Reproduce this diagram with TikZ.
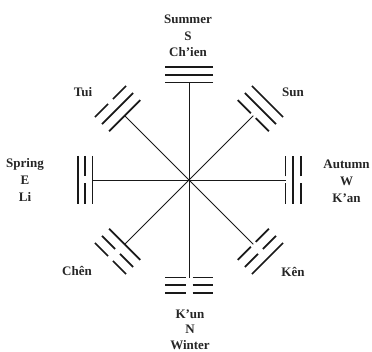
\documentclass[tikz,border=0pt]{standalone}
\usepackage{fontspec}
\setmainfont{Liberation Serif}
\tikzset{
  yao/.style={line width=1.7pt,black!90},
  spoke/.style={line width=0.9pt,black!90},
  lbl/.style={font=\fontsize{13}{16}\selectfont\bfseries,inner sep=0pt,anchor=base,text=black!85}
}
\def\yaogap{3.5}
\newcommand\yaoS[2]{\draw[yao] (#1,-#2) -- (#1,#2);}
\newcommand\yaoB[2]{\draw[yao] (#1,-#2) -- (#1,-\yaogap) (#1,\yaogap) -- (#1,#2);}
% angle, inner distance, spacing, half length, inner, middle, outer
\newcommand\trigram[7]{%
  \begin{scope}[shift={(C)},rotate=#1]
    \csname yao#5\endcsname{#2}{#4}
    \csname yao#6\endcsname{#2+#3}{#4}
    \csname yao#7\endcsname{#2+2*#3}{#4}
  \end{scope}}
\begin{document}
\begin{tikzpicture}[x=1pt,y=1pt]
\useasboundingbox (0,0) rectangle (372,351);
\coordinate (C) at (189,171);
% spoke ends
\path (C) ++(90:97.5)   coordinate (eN);
\path (C) ++(-90:97.5)  coordinate (eS);
\path (C) ++(0:96.5)    coordinate (eE);
\path (C) ++(180:96.5)  coordinate (eW);
\path (C) ++(45:91)     coordinate (eNE);
\path (C) ++(135:91)    coordinate (eNW);
\path (C) ++(-45:91)    coordinate (eSE);
\path (C) ++(-135:91)   coordinate (eSW);
\foreach \e in {eN,eS,eE,eW,eNE,eNW,eSE,eSW} \draw[spoke] (C) -- (\e);
% trigrams (inner to outer)
\trigram{90}{97.5}{7.8}{24}{S}{S}{S}   % Ch'ien
\trigram{-90}{97.5}{7.8}{24}{B}{B}{B}  % K'un
\trigram{180}{96.5}{7.3}{24}{S}{B}{S}  % Li
\trigram{0}{96.5}{7.8}{24}{B}{S}{B}    % K'an
\trigram{135}{91}{10}{22}{S}{S}{B}     % Tui
\trigram{45}{91}{10}{22}{B}{S}{S}      % Sun
\trigram{-135}{91}{10}{22}{S}{B}{B}    % Chen
\trigram{-45}{91}{10}{22}{B}{B}{S}     % Ken
% labels
\node[lbl] (sum) at (188,327) {Summer};
\node[lbl] (s) at (188,310.5) {S};
\node[lbl] (chien) at (188,294.3) {Ch'ien};
\node[lbl] (kun) at (190,33) {K'un};
\node[lbl] (n) at (190,17.5) {N};
\node[lbl] (win) at (190,2) {Winter};
\node[lbl] (spr) at (25,183.5) {Spring};
\node[lbl] (e) at (25,166.5) {E};
\node[lbl] (li) at (25,149.5) {Li};
\node[lbl] (aut) at (346.5,182.5) {Autumn};
\node[lbl] (w) at (346.5,165.5) {W};
\node[lbl] (kan) at (346.5,148.5) {K'an};
\node[lbl] (tui) at (83,254.5) {Tui};
\node[lbl] (sun) at (293,254.5) {Sun};
\node[lbl] (chen) at (77,75.5) {Chên};
\node[lbl] (ken) at (293,74.5) {Kên};
\end{tikzpicture}
\end{document}
